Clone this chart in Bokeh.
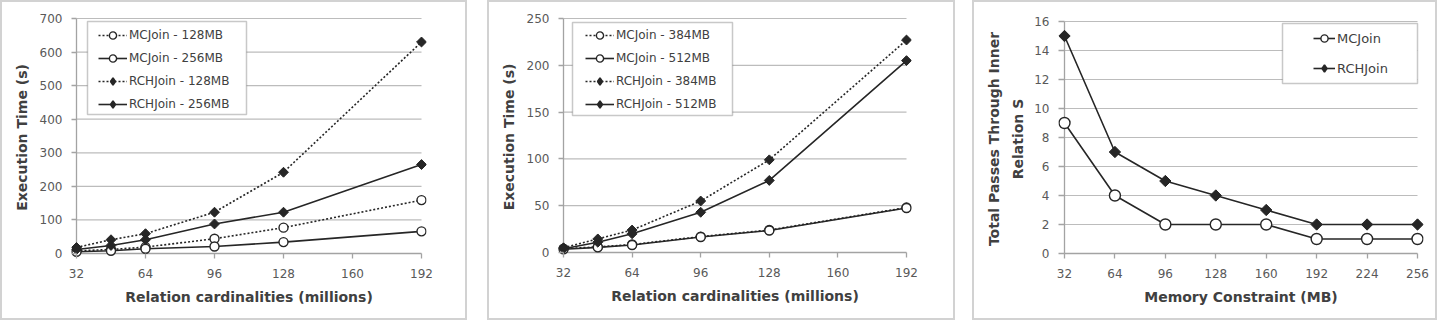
import math

from bokeh.embed import file_html
from bokeh.layouts import column, row
from bokeh.models import (BoxAnnotation, FixedTicker, Legend, LegendItem,
                          LinearAxis, Range1d, Spacer)
from bokeh.plotting import figure
from bokeh.resources import INLINE

# ---------------------------------------------------------------- data
card = [32, 48, 64, 96, 128, 192]              # relation cardinality (millions)
card_ticks = [32, 64, 96, 128, 160, 192]

mc_128 = [8, 12, 19, 44, 77, 159]
mc_256 = [5, 8, 14, 21, 34, 66]
rch_128 = [18, 41, 59, 123, 242, 630]
rch_256 = [12, 24, 41, 88, 123, 265]
time_ticks_a = [0, 100, 200, 300, 400, 500, 600, 700]

mc_384 = [4, 6, 8.5, 17, 24, 48]
mc_512 = [3.5, 5.5, 8, 16.5, 23.5, 47.5]
rch_384 = [5, 14.5, 24, 55, 99, 227]
rch_512 = [4, 11, 20, 43, 77, 205]
time_ticks_b = [0, 50, 100, 150, 200, 250]

mem = [32, 64, 96, 128, 160, 192, 224, 256]    # memory constraint (MB)
passes_mc = [9, 4, 2, 2, 2, 1, 1, 1]
passes_rch = [15, 7, 5, 4, 3, 2, 2, 2]
pass_ticks = [0, 2, 4, 6, 8, 10, 12, 14, 16]

# ---------------------------------------------------------------- style
FONT = "DejaVu Sans"
INK = "#262626"
GRID = "#bcbcbc"
AXIS = "#a3a3a3"
TICK_TEXT = "#595959"
TITLE_TEXT = "#404040"
H = 316                      # figure height inside the 2px panel border
PAD_TOP, PAD_BOTTOM = 2, 5
ROW_H = 18                   # legend row height (also sets the legend marker size)

frame_origin = {}            # figure id -> (frame left, frame bottom) in pixels


def style_title(ax):
    ax.axis_label_text_font = FONT
    ax.axis_label_text_font_size = "14px"
    ax.axis_label_text_font_style = "bold"
    ax.axis_label_text_color = TITLE_TEXT


def make_panel(width, xlim, px, ylim, py, xticks, yticks, xlabel, ylabel, pad_x=5):
    """px: pixel columns of the xlim ends, py: pixel rows (top, bottom) of ylim."""
    x_lo, x_hi = xlim
    y_lo, y_hi = ylim
    upx = (x_hi - x_lo) / (px[1] - px[0])
    upy = (y_hi - y_lo) / (py[1] - py[0])
    frame_left = px[0] - pad_x
    frame_bottom = py[1] + PAD_BOTTOM
    p = figure(width=width, height=H, output_backend="svg", toolbar_location=None,
               x_range=Range1d(x_lo - pad_x * upx, x_hi + pad_x * upx),
               y_range=Range1d(y_lo - PAD_BOTTOM * upy, y_hi + PAD_TOP * upy),
               min_border_left=frame_left,
               min_border_right=width - (px[1] + pad_x),
               min_border_top=py[0] - PAD_TOP,
               min_border_bottom=H - frame_bottom)
    p.outline_line_color = None
    p.background_fill_color = "white"
    p.border_fill_color = "white"
    p.grid.visible = False

    # horizontal gridlines over the plotted span, then the two axis rules
    gy = [t for t in yticks if t != y_lo]
    p.segment(x0=[x_lo] * len(gy), x1=[x_hi] * len(gy), y0=gy, y1=gy,
              line_color=GRID, line_width=1.2, level="underlay")
    p.segment(x0=[x_lo, x_lo], x1=[x_hi, x_lo], y0=[y_lo, y_lo], y1=[y_lo, y_hi],
              line_color=AXIS, line_width=1.3, level="underlay")

    for ax in (p.xaxis[0], p.yaxis[0]):
        ax.axis_line_color = None
        ax.major_tick_line_color = AXIS
        ax.major_tick_line_width = 1.3
        ax.minor_tick_line_color = None
        ax.major_tick_out = 0
        ax.major_label_text_font = FONT
        ax.major_label_text_font_size = "12px"
        ax.major_label_text_color = TICK_TEXT
        style_title(ax)

    xa, ya = p.xaxis[0], p.yaxis[0]
    xa.ticker = FixedTicker(ticks=xticks)
    ya.ticker = FixedTicker(ticks=yticks)
    xa.major_tick_in = PAD_BOTTOM
    ya.major_tick_in = pad_x
    xa.major_label_standoff = 10
    ya.major_label_standoff = 9
    xa.axis_label = xlabel
    xa.axis_label_standoff = 8
    ya.axis_label = ylabel
    ya.axis_label_standoff = 7
    frame_origin[p.id] = (frame_left, frame_bottom)
    return p


def add_series(p, x, y, marker, dashed, size):
    """Draws one series; returns the renderers its legend entry shows."""
    ln = p.line(x, y, line_color=INK, line_width=1.6,
                line_dash="2 2" if dashed else "solid")
    if marker == "circle":
        mk = p.scatter(x, y, marker="circle", size=size, fill_color="white",
                       line_color=INK, line_width=1.4)
        return [ln, mk]
    p.scatter(x, y, marker="square", angle=math.pi / 4, size=size,
              fill_color=INK, line_color=INK, line_width=1)
    # legend swatch: an upright diamond (legend swatches ignore marker angles)
    key = p.scatter([math.nan], [math.nan], marker="diamond", size=size,
                    fill_color=INK, line_color=INK, line_width=1.6)
    return [ln, key]


def add_legend(p, entries, box, first_row, glyph_x, spacing, glyph_width, font_size):
    """box = (left, right, top, bottom) in figure pixels; first_row = centre of row 1."""
    fx, fy = frame_origin[p.id]
    left, right, top, bottom = box
    p.add_layout(BoxAnnotation(left=left - fx, right=right - fx,
                               bottom=fy - bottom, top=fy - top,
                               left_units="screen", right_units="screen",
                               bottom_units="screen", top_units="screen",
                               fill_color="white", fill_alpha=1.0,
                               line_color="#4a4a4a", line_width=1.5))
    n = len(entries)
    legend_bottom = first_row - ROW_H / 2 + n * ROW_H + (n - 1) * spacing
    items = [LegendItem(label=name, renderers=rs) for name, rs in entries]
    lg = Legend(items=items, location=(glyph_x - fx, fy - legend_bottom),
                padding=0, margin=0, spacing=spacing,
                label_height=ROW_H, glyph_height=ROW_H, glyph_width=glyph_width,
                label_standoff=2, border_line_color=None, background_fill_alpha=0,
                label_text_font=FONT, label_text_font_size=font_size,
                label_text_color=TITLE_TEXT)
    p.add_layout(lg)


# ---------------------------------------------------------------- panel 1
p1 = make_panel(463, (32, 192), (74, 419), (0, 700), (16, 251),
                card_ticks, time_ticks_a,
                "Relation cardinalities (millions)", "Execution Time (s)")
s1 = [("MCJoin - 128MB", add_series(p1, card, mc_128, "circle", True, 9)),
      ("MCJoin - 256MB", add_series(p1, card, mc_256, "circle", False, 9)),
      ("RCHJoin - 128MB", add_series(p1, card, rch_128, "diamond", True, 7)),
      ("RCHJoin - 256MB", add_series(p1, card, rch_256, "diamond", False, 7))]
add_legend(p1, s1, (85, 244, 19, 112), 33, 96, 5, 29, "12px")

# ---------------------------------------------------------------- panel 2
p2 = make_panel(464, (32, 192), (74, 417), (0, 250), (16, 250),
                card_ticks, time_ticks_b,
                "Relation cardinalities (millions)", "Execution Time (s)")
s2 = [("MCJoin - 384MB", add_series(p2, card, mc_384, "circle", True, 9)),
      ("MCJoin - 512MB", add_series(p2, card, mc_512, "circle", False, 9)),
      ("RCHJoin - 384MB", add_series(p2, card, rch_384, "diamond", True, 7)),
      ("RCHJoin - 512MB", add_series(p2, card, rch_512, "diamond", False, 7))]
add_legend(p2, s2, (83, 243, 20, 113), 33, 96, 5, 29, "12px")

# ---------------------------------------------------------------- panel 3
p3 = make_panel(461, (32, 256), (90, 443), (0, 16), (19, 251),
                mem, pass_ticks, "Memory Constraint (MB)", "Relation S", pad_x=6)
p3.yaxis[0].axis_label_standoff = 5
outer_title = LinearAxis(axis_label="Total Passes Through Inner",
                         ticker=FixedTicker(ticks=[]), axis_line_color=None,
                         major_tick_line_color=None, minor_tick_line_color=None,
                         axis_label_standoff=6)
style_title(outer_title)
p3.add_layout(outer_title, "left")
s3 = [("MCJoin", add_series(p3, mem, passes_mc, "circle", False, 11)),
      ("RCHJoin", add_series(p3, mem, passes_rch, "diamond", False, 8))]
add_legend(p3, s3, (308, 443, 21, 81), 36, 339, 12, 22, "13px")


def framed(p):
    return column(p, styles={"border": "2px solid #d2d2d2"})


layout = row(framed(p1), Spacer(width=20, height=320), framed(p2),
             Spacer(width=17, height=320), framed(p3))

with open("out.html", "w") as f:
    f.write(file_html(layout, INLINE))
